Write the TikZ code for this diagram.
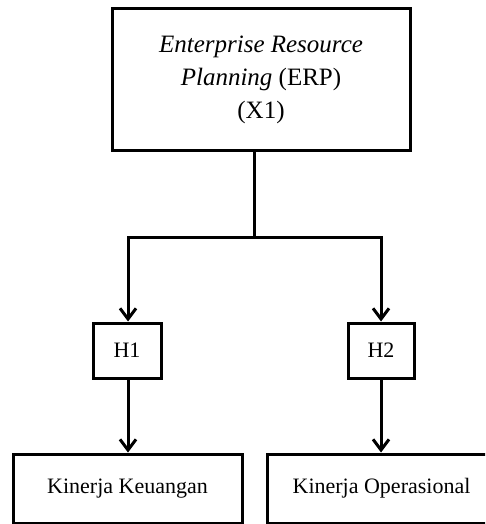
\documentclass[tikz,border=0pt]{standalone}
\usepackage{fontspec}
\setmainfont{Liberation Serif}
\usetikzlibrary{arrows.meta,positioning}

\begin{document}
\begin{tikzpicture}[x=0.75pt,y=-0.75pt,line width=2.25pt,
    >={Straight Barb[length=8pt,width=12pt,line width=2.25pt]},
    box/.style={draw,rectangle,align=center,inner sep=0pt,
        font=\fontsize{16.5}{20}\selectfont}]

\useasboundingbox (0,0) rectangle (485,524);
\clip (0,0) rectangle (485,524);

\node[box,minimum width=223.5pt,minimum height=106.5pt,
    font=\fontsize{18.75}{24.75}\selectfont] (X_1) at (261,80)
    {\textit{Enterprise Resource}\\\textit{Planning} (ERP)\\(X1)};
\node[box,minimum width=51pt,minimum height=41.25pt] (H_1) at (127,350.5) {H1};
\node[box,minimum width=49.5pt,minimum height=41.25pt] (H_2) at (381,350.5) {H2};
\node[box,minimum width=171.75pt,minimum height=51.75pt] (Y_1) at (127.5,488.5) {Kinerja Keuangan};
\node[box,minimum width=171.75pt,minimum height=51.75pt] (Y_2) at (381.5,488.5) {Kinerja Operasional};

\coordinate (split) at (254,237);

\draw (split |- X_1.south) -- (split);
\draw[->,line join=miter] (split) -| ([xshift=0.75pt]H_1.north);
\draw[->,line join=miter] (split) -| (H_2.north);
\draw[->] ([xshift=0.75pt]H_1.south) -- ([xshift=0.75pt]H_1.south |- Y_1.north);
\draw[->] (H_2.south) -- (H_2.south |- Y_2.north);

\end{tikzpicture}
\end{document}
